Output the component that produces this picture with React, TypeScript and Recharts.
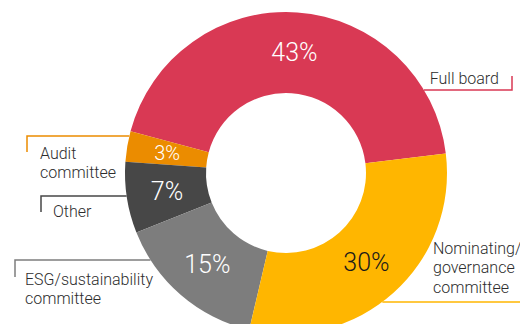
import { PieChart, Pie, Cell } from 'recharts'

const categories = [
  'Full board',
  'Audit committee',
  'Other',
  'ESG/sustainability committee',
  'Nominating/governance committee',
]
const shares = [43, 3, 7, 15, 30]
const labelLines = [
  ['Full board'],
  ['Audit', 'committee'],
  ['Other'],
  ['ESG/sustainability', 'committee'],
  ['Nominating/', 'governance', 'committee'],
]

const colors = ['#D93954', '#EB8C00', '#474747', '#7D7D7D', '#FFB600']
const valueColors = ['#fff', '#fff', '#fff', '#fff', '#1a1a1a']

// callout placement: horizontal leader at lineY, running to endX, short tick, text block
const callouts = [
  { side: 1, lineY: 90, endX: 512, tick: -14, textX: 499, anchor: 'end', textY: 78 },
  { side: -1, lineY: 136, endX: 27, tick: 16, textX: 40, anchor: 'start', textY: 153 },
  { side: -1, lineY: 196, endX: 41, tick: 16, textX: 53, anchor: 'start', textY: 211 },
  { side: -1, lineY: 260, endX: 15, tick: 17, textX: 25, anchor: 'start', textY: 279 },
  { side: 1, lineY: 302, endX: 522, tick: 0, textX: 433, anchor: 'start', textY: 248 },
]

const data = categories.map((name, i) => ({ name, value: shares[i] }))

const FONT = 'Roboto, "Liberation Sans", sans-serif'
const RAD = Math.PI / 180

const renderLabel = (props: any) => {
  const { cx, cy, midAngle, innerRadius, outerRadius, value, index } = props
  const r = (innerRadius + outerRadius) / 2
  const x = cx + r * Math.cos(-midAngle * RAD)
  const y = cy + r * Math.sin(-midAngle * RAD)
  const c = callouts[index]
  const dy = c.lineY - cy
  const startX = cx + c.side * Math.sqrt(Math.max(outerRadius * outerRadius - dy * dy, 0))
  return (
    <g>
      <text
        x={x}
        y={y}
        fill={valueColors[index]}
        textAnchor="middle"
        dominantBaseline="central"
        fontFamily={FONT}
        fontWeight={300}
        fontSize={value < 5 ? 20 : 25}
      >
        {value}%
      </text>
      <polyline
        points={`${startX},${c.lineY} ${c.endX},${c.lineY} ${c.endX},${c.lineY + c.tick}`}
        fill="none"
        stroke={colors[index]}
        strokeWidth={1.5}
      />
      {labelLines[index].map((line, j) => (
        <text
          key={j}
          x={c.textX}
          y={c.textY + j * 19.5}
          fill="#2d2d2d"
          textAnchor={c.anchor as any}
          dominantBaseline="central"
          fontFamily={FONT}
          fontWeight={300}
          fontSize={16}
        >
          {line}
        </text>
      ))}
    </g>
  )
}

export default function App() {
  return (
    <div style={{ position: 'absolute', left: 0, top: 0, background: '#fff' }}>
      <PieChart width={520} height={324}>
        <Pie
          data={data}
          dataKey="value"
          nameKey="name"
          cx={281}
          cy={168}
          innerRadius={80}
          outerRadius={161}
          startAngle={7}
          endAngle={367}
          stroke="none"
          label={renderLabel}
          labelLine={false}
          isAnimationActive={false}
        >
          {data.map((d, i) => (
            <Cell key={d.name} fill={colors[i]} />
          ))}
        </Pie>
      </PieChart>
    </div>
  )
}
